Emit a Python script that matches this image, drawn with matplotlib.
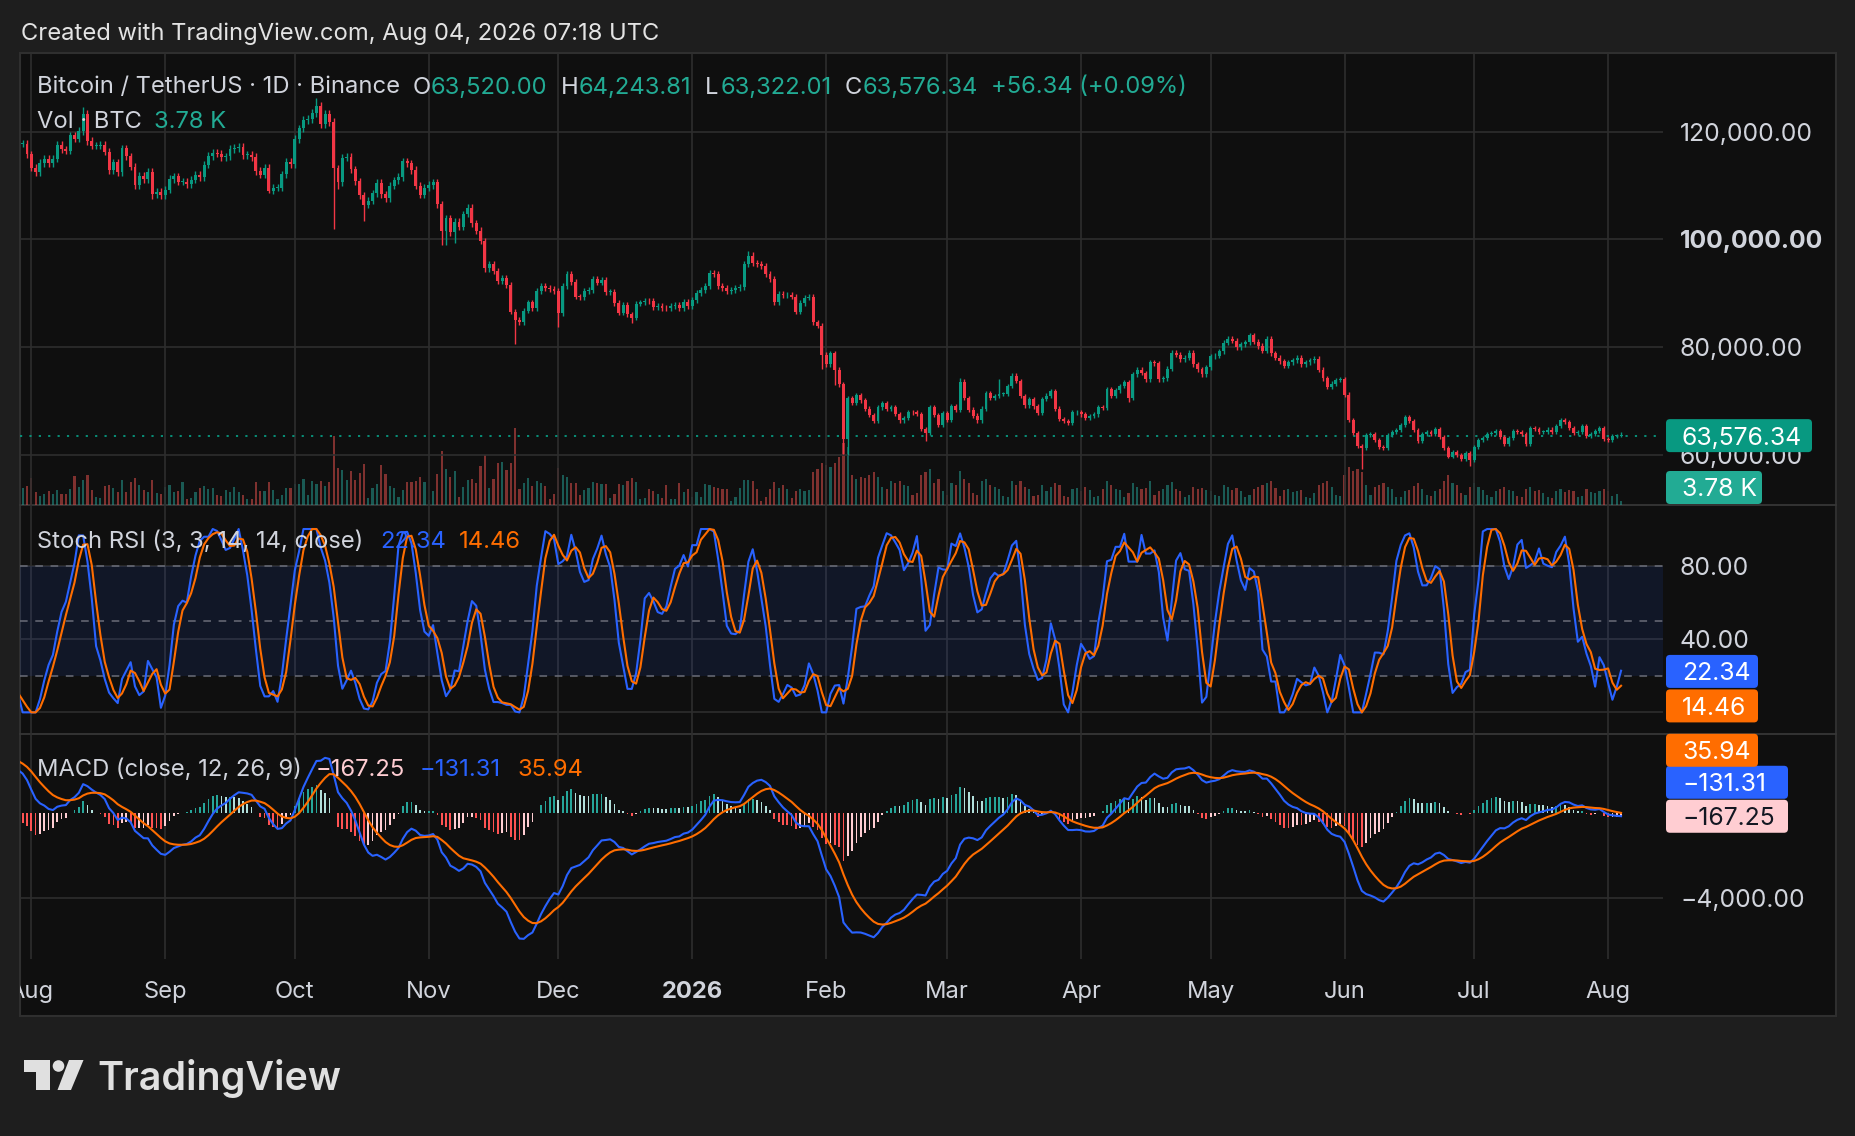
import numpy as np
import pandas as pd
import matplotlib
matplotlib.use("Agg")
import matplotlib.pyplot as plt
from matplotlib.patches import Rectangle, FancyBboxPatch, Circle, Polygon
from matplotlib.transforms import blended_transform_factory

plt.rcParams["font.family"] = ["Inter", "DejaVu Sans"]

# ---------------- data (closes in thousand USDT, volume in thousand BTC) ----------------
# Jun / Jul 2025 are only the look-back for the indicators (left of the visible range)
close_2025_06 = [105.6, 105.8, 105.4, 104.7, 101.5, 104.3, 105.6, 105.7, 110.3, 110.2,
                 108.7, 105.9, 106.1, 105.5, 105.6, 106.8, 104.6, 104.9, 104.6, 103.3,
                 102.1, 100.9, 105.4, 105.9, 107.3, 106.9, 107.1, 107.3, 108.4, 107.1]
close_2025_07 = [105.7, 108.8, 109.6, 108.0, 108.2, 109.2, 108.2, 108.9, 111.3, 115.9,
                 117.5, 117.4, 119.1, 119.8, 117.7, 118.6, 119.2, 117.9, 117.8, 117.3,
                 117.4, 119.9, 118.7, 118.3, 117.6, 117.9, 119.4, 118.0, 117.8, 117.8, 115.8]
close_2025_08 = [113.3, 112.5, 114.2, 115.0, 114.1, 115.0, 117.5, 116.7, 116.5, 119.3,
                 118.7, 120.1, 123.3, 118.3, 117.4, 117.4, 117.5, 116.3, 112.9, 114.3,
                 112.5, 116.9, 115.4, 113.5, 110.1, 111.8, 111.2, 112.6, 108.4, 108.8, 108.2]
close_2025_09 = [109.2, 111.2, 111.7, 110.7, 110.7, 110.2, 111.1, 112.0, 111.5, 113.9,
                 115.5, 116.1, 115.9, 115.3, 115.4, 116.8, 117.0, 117.2, 115.7, 115.7,
                 115.3, 112.7, 112.0, 113.3, 109.0, 109.6, 109.6, 112.1, 114.4, 114.0]
close_2025_10 = [118.6, 120.6, 122.2, 122.4, 123.5, 124.7, 121.4, 123.3, 121.7, 113.2,
                 110.6, 115.2, 115.3, 113.0, 110.8, 108.2, 106.4, 107.2, 108.6, 110.5,
                 108.4, 107.6, 110.0, 111.0, 111.6, 114.5, 114.1, 112.9, 110.0, 108.3, 109.6]
close_2025_11 = [110.1, 110.6, 106.5, 101.5, 103.9, 101.3, 103.3, 102.3, 104.7, 105.9,
                 103.0, 101.6, 99.7, 94.6, 95.5, 94.2, 92.2, 92.9, 91.5, 86.6,
                 85.1, 84.7, 86.8, 88.3, 87.3, 90.5, 91.3, 90.9, 90.8, 90.4]
close_2025_12 = [86.3, 91.3, 93.5, 92.1, 89.4, 89.3, 90.4, 90.6, 92.7, 92.0,
                 92.5, 90.3, 90.3, 88.2, 86.4, 87.8, 86.1, 85.5, 88.1, 88.3,
                 88.6, 88.5, 87.5, 87.6, 87.3, 87.2, 87.7, 87.9, 87.2, 88.4, 87.6]
close_2026_01 = [88.7, 90.0, 90.6, 91.4, 93.8, 93.6, 91.3, 90.9, 90.5, 90.6,
                 90.9, 91.2, 95.4, 97.0, 95.6, 95.5, 95.1, 93.6, 92.6, 88.4,
                 89.9, 89.6, 89.7, 89.4, 86.6, 88.2, 89.2, 89.4, 84.6, 84.0, 78.6]
close_2026_02 = [76.8, 78.9, 75.8, 73.1, 62.9, 70.6, 69.6, 71.1, 70.1, 68.6,
                 67.4, 66.3, 68.8, 69.6, 68.5, 68.8, 67.6, 66.4, 66.9, 68.0,
                 67.9, 67.6, 64.8, 64.0, 68.9, 67.4, 65.6, 67.8]
close_2026_03 = [66.5, 69.0, 68.4, 73.6, 70.6, 68.4, 67.3, 66.4, 68.6, 71.4,
                 70.6, 70.9, 71.3, 71.3, 72.8, 74.7, 73.7, 70.9, 69.2, 70.4,
                 69.0, 67.8, 70.4, 71.0, 71.8, 68.6, 66.6, 66.3, 66.0, 67.9, 68.0]
close_2026_04 = [67.5, 66.8, 67.2, 67.5, 68.9, 68.7, 72.2, 71.0, 72.0, 72.8,
                 73.5, 70.6, 75.0, 75.8, 75.2, 74.0, 77.2, 77.0, 74.0, 74.2,
                 76.0, 79.0, 78.6, 77.8, 78.0, 79.0, 76.8, 75.9, 75.0, 76.3]
close_2026_05 = [78.3, 78.4, 79.2, 80.8, 81.6, 81.2, 80.0, 80.5, 80.9, 82.2,
                 81.0, 80.2, 79.3, 81.5, 78.9, 78.0, 77.4, 76.5, 77.2, 77.6,
                 78.0, 76.8, 77.2, 77.6, 77.8, 75.8, 74.2, 72.6, 73.2, 73.9, 74.0]
close_2026_06 = [71.2, 66.5, 64.0, 61.6, 61.3, 63.7, 63.8, 62.8, 61.5, 61.3,
                 63.7, 64.3, 64.6, 65.6, 67.0, 66.3, 64.6, 62.5, 63.8, 64.2,
                 63.8, 64.8, 63.4, 61.2, 59.7, 60.6, 60.0, 59.3, 60.4, 59.1]
close_2026_07 = [61.5, 62.8, 63.2, 63.8, 64.0, 64.5, 63.3, 62.0, 63.2, 64.4,
                 64.2, 63.8, 62.0, 65.0, 64.8, 64.3, 64.3, 64.7, 64.3, 65.4,
                 66.5, 66.1, 65.0, 64.0, 64.2, 65.3, 63.5, 63.9, 64.4, 65.0, 63.0]
close_2026_08 = [62.8, 63.5, 63.52, 63.57634]

# long wicks that stand out in the picture: date -> (high, low), thousand USDT
wicks = {
    "2025-08-13": (124.5, None), "2025-08-14": (124.0, None), "2025-08-29": (None, 107.5),
    "2025-09-25": (None, 108.6), "2025-10-06": (126.2, None), "2025-10-10": (122.5, 102.0),
    "2025-10-11": (None, 109.4), "2025-10-17": (None, 103.5), "2025-11-04": (None, 98.9),
    "2025-11-05": (None, 98.9), "2025-11-07": (None, 99.3), "2025-11-21": (None, 80.6),
    "2025-12-01": (None, 83.8), "2025-12-18": (None, 84.5), "2026-01-14": (97.9, None),
    "2026-01-31": (None, 75.9), "2026-02-03": (None, 72.9), "2026-02-05": (None, 60.1),
    "2026-02-06": (None, 59.9), "2026-02-24": (None, 62.5), "2026-03-04": (74.3, None),
    "2026-03-13": (74.0, None), "2026-04-12": (None, 69.8), "2026-06-05": (None, 57.3),
    "2026-06-30": (None, 57.9), "2026-08-04": (64.24381, 63.32201),
}

vol_2025_07 = [12, 17, 19]  # Jul 29 - 31
vol_2025_08 = [27, 13, 9, 11, 14, 11, 15, 11, 11, 16, 29, 18, 25, 30, 15, 8, 7, 19, 20, 17,
               13, 25, 13, 23, 27, 20, 15, 13, 25, 12, 11]
vol_2025_09 = [18, 20, 13, 14, 23, 6, 7, 13, 17, 19, 16, 17, 10, 9, 15, 13, 18, 13, 10, 6,
               6, 23, 14, 14, 23, 15, 6, 10, 17, 17]
vol_2025_10 = [21, 21, 26, 10, 24, 21, 24, 19, 23, 69, 37, 35, 25, 34, 25, 32, 41, 7, 17, 21,
               40, 31, 19, 17, 8, 15, 23, 23, 24, 28, 23]
vol_2025_11 = [5, 14, 31, 54, 36, 28, 34, 8, 18, 25, 26, 22, 39, 50, 17, 26, 42, 43, 35, 42,
               77, 16, 22, 27, 19, 24, 22, 19, 6, 11]
vol_2025_12 = [37, 30, 28, 22, 22, 10, 15, 17, 23, 22, 21, 21, 7, 11, 21, 20, 24, 27, 23, 6,
               7, 16, 14, 11, 7, 20, 6, 6, 22, 13, 16]
vol_2026_01 = [8, 13, 8, 21, 20, 18, 17, 16, 16, 4, 8, 17, 25, 25, 24, 16, 4, 8, 16, 23,
               17, 20, 16, 7, 14, 16, 14, 15, 33, 36, 42]
vol_2026_02 = [40, 38, 42, 48, 62, 58, 30, 26, 28, 27, 30, 33, 28, 18, 16, 24, 22, 24, 20, 19,
               10, 12, 30, 33, 36, 22, 26, 14]
vol_2026_03 = [10, 22, 20, 34, 26, 22, 12, 10, 24, 26, 20, 18, 16, 9, 8, 24, 20, 24, 18, 16,
               9, 10, 20, 14, 18, 22, 20, 9, 8, 16, 17]
vol_2026_04 = [14, 18, 15, 8, 9, 16, 24, 20, 16, 15, 8, 12, 22, 18, 16, 17, 24, 10, 14, 16,
               20, 23, 16, 14, 8, 10, 18, 16, 17, 15]
vol_2026_05 = [14, 10, 9, 20, 18, 15, 17, 14, 8, 10, 16, 18, 20, 22, 24, 17, 9, 15, 16, 13,
               14, 15, 8, 7, 12, 20, 22, 24, 18, 10, 9]
vol_2026_06 = [30, 38, 34, 36, 33, 20, 10, 18, 20, 22, 18, 16, 8, 8, 14, 15, 19, 22, 16, 10,
               9, 14, 16, 24, 30, 22, 20, 12, 10, 18]
vol_2026_07 = [22, 18, 15, 10, 8, 14, 16, 18, 15, 14, 9, 8, 16, 18, 14, 15, 12, 8, 7, 14,
               16, 13, 15, 14, 8, 9, 16, 13, 12, 14, 16]
vol_2026_08 = [14, 9, 11, 3.78]

price_ticks = [60000, 80000, 100000, 120000]
stoch_ticks = [0, 40, 80]
macd_ticks = [-4000]
month_labels = ["Aug", "Sep", "Oct", "Nov", "Dec", "2026", "Feb", "Mar", "Apr",
                "May", "Jun", "Jul", "Aug"]
month_starts = pd.date_range("2025-08-01", "2026-08-01", freq="MS")

stoch_last = (22.34, 14.46)            # K, D
macd_last = (-167.25, -131.31, 35.94)  # histogram, MACD, signal

# ---------------- build series ----------------
close_parts = [("2025-06-01", close_2025_06), ("2025-07-01", close_2025_07),
               ("2025-08-01", close_2025_08), ("2025-09-01", close_2025_09),
               ("2025-10-01", close_2025_10), ("2025-11-01", close_2025_11),
               ("2025-12-01", close_2025_12), ("2026-01-01", close_2026_01),
               ("2026-02-01", close_2026_02), ("2026-03-01", close_2026_03),
               ("2026-04-01", close_2026_04), ("2026-05-01", close_2026_05),
               ("2026-06-01", close_2026_06), ("2026-07-01", close_2026_07),
               ("2026-08-01", close_2026_08)]
vol_parts = [("2025-07-29", vol_2025_07), ("2025-08-01", vol_2025_08),
             ("2025-09-01", vol_2025_09), ("2025-10-01", vol_2025_10),
             ("2025-11-01", vol_2025_11), ("2025-12-01", vol_2025_12),
             ("2026-01-01", vol_2026_01), ("2026-02-01", vol_2026_02),
             ("2026-03-01", vol_2026_03), ("2026-04-01", vol_2026_04),
             ("2026-05-01", vol_2026_05), ("2026-06-01", vol_2026_06),
             ("2026-07-01", vol_2026_07), ("2026-08-01", vol_2026_08)]

close = pd.concat([pd.Series(np.array(v) * 1000.0, index=pd.date_range(s, periods=len(v)))
                   for s, v in close_parts])
volume = pd.concat([pd.Series(np.array(v, dtype=float), index=pd.date_range(s, periods=len(v)))
                    for s, v in vol_parts])

opn = close.shift(1).bfill()
high = np.maximum(opn, close) * 1.006
low = np.minimum(opn, close) * 0.994
for day, (hh, ll) in wicks.items():
    if hh is not None:
        high[day] = hh * 1000
    if ll is not None:
        low[day] = ll * 1000

base = pd.Timestamp("2025-08-01")
xd = (close.index - base).days.values.astype(float)
xv = (volume.index - base).days.values.astype(float)

# indicators (as TradingView computes them)
delta = close.diff()
gain = delta.clip(lower=0).ewm(alpha=1 / 14, adjust=False).mean()
loss = (-delta.clip(upper=0)).ewm(alpha=1 / 14, adjust=False).mean()
rsi = 100 - 100 / (1 + gain / loss)
rlo, rhi = rsi.rolling(14).min(), rsi.rolling(14).max()
stoch = 100 * (rsi - rlo) / (rhi - rlo)
k_line = stoch.rolling(3).mean()
d_line = k_line.rolling(3).mean()

macd = close.ewm(span=12, adjust=False).mean() - close.ewm(span=26, adjust=False).mean()
signal = macd.ewm(span=9, adjust=False).mean()
hist = macd - signal

# ---------------- layout ----------------
W, H = 1856, 1136
BG_OUT, BG = "#1e1e1e", "#0f0f0f"
GRID = "#2e2e2e"
TXT = "#d1d4dc"
UP, DN = "#089981", "#f23645"
BLUE, ORANGE = "#2962ff", "#ff6d00"
FS = 17.1      # legends, header, time axis
FS_AX = 17.8   # price scale and tags
DY = 2.5       # text centre correction in pixels
L, R = 20, 1663
X0_PX, PX_DAY = 31.3, 4.32
XLIM = ((L - X0_PX) / PX_DAY, (R - X0_PX) / PX_DAY)

fig = plt.figure(figsize=(W / 100, H / 100), dpi=100, facecolor=BG_OUT)


def pane(top, bottom, z=2):
    a = fig.add_axes([L / W, 1 - bottom / H, (R - L) / W, (bottom - top) / H], zorder=z)
    a.set_facecolor("none")
    a.set_xlim(*XLIM)
    a.set_xticks([])
    a.set_yticks([])
    for s in a.spines.values():
        s.set_visible(False)
    return a


ov = fig.add_axes([0, 0, 1, 1], zorder=0)
ov.set_xlim(0, W)
ov.set_ylim(H, 0)
ov.axis("off")
ov.add_patch(Rectangle((20, 53), 1816, 963, fc=BG, ec="#2f2f2f", lw=1.5))
for yy in (505, 734):
    ov.plot([20, 1836], [yy, yy], color="#363636", lw=1.3)

top = fig.add_axes([0, 0, 1, 1], zorder=10)
top.set_xlim(0, W)
top.set_ylim(H, 0)
top.axis("off")


def label(x, y, s, color=TXT, size=FS, **kw):
    top.text(x, y + DY, s, color=color, fontsize=size, va="center", **kw)


ax = pane(53, 505, z=3)
axv = pane(53, 505, z=2)
ax_s = pane(505, 734)
ax_m = pane(734, 959)
ax_t = pane(959, 1015)

ax.set_ylim(50700, 134600)
axv.set_ylim(0, 452)
ax_s.set_ylim(-11.8, 113.1)
ax_m.set_ylim(-6861, 3691)
ax_t.set_ylim(0, 1)

md = (month_starts - base).days.values
for a in (ax, ax_s, ax_m):
    for d in md:
        a.axvline(d, color=GRID, lw=1.2, zorder=0)
for v in price_ticks:
    ax.axhline(v, color=GRID, lw=1.2, zorder=0)
for v in stoch_ticks:
    ax_s.axhline(v, color=GRID, lw=1.2, zorder=0)
for v in macd_ticks:
    ax_m.axhline(v, color=GRID, lw=1.2, zorder=0)

# candles
o, c, hi, lo = opn.values, close.values, high.values, low.values
col = np.where(c >= o, UP, DN)
ax.vlines(xd, lo, hi, colors=col, lw=1.0, zorder=3)
ax.bar(xd, np.maximum(np.abs(c - o), 150), bottom=np.minimum(o, c), width=0.68,
       color=col, linewidth=0, zorder=4)
ax.axhline(close.iloc[-1], color=UP, lw=1.3, ls=(0, (1.2, 4)), zorder=2)

# volume
vcol = np.where(close.reindex(volume.index).values >= opn.reindex(volume.index).values,
                "#26a69a", "#ef5350")
axv.bar(xv, volume.values, width=0.5, color=vcol, alpha=0.5, linewidth=0)

# stoch RSI
ax_s.axhspan(20, 80, color=BLUE, alpha=0.1, lw=0, zorder=0)
for lvl in (80, 50, 20):
    ax_s.axhline(lvl, color="#6a6d78", lw=1.1, ls=(0, (5, 5)), zorder=1)
ax_s.plot(xd, k_line.values, color=BLUE, lw=1.5, zorder=3)
ax_s.plot(xd, d_line.values, color=ORANGE, lw=1.5, zorder=4)

# MACD
hv = hist.values
hprev = np.r_[hv[0], hv[:-1]]
hcol = np.where(hv >= 0, np.where(hv > hprev, "#26a69a", "#b2dfdb"),
                np.where(hv < hprev, "#ff5252", "#ffcdd2"))
ax_m.bar(xd, hv, width=0.4, color=hcol, linewidth=0, zorder=2)
ax_m.plot(xd, macd.values, color=BLUE, lw=1.5, zorder=3)
ax_m.plot(xd, signal.values, color=ORANGE, lw=1.5, zorder=4)

# time axis labels
tr = blended_transform_factory(ax_t.transData, ax_t.transAxes)
for d, lab in zip(md, month_labels):
    ax_t.text(d, 0.41, lab, transform=tr, ha="center", va="center", color=TXT,
              fontsize=FS, fontweight="bold" if lab == "2026" else "normal", clip_on=True)


def ypx(a, v):
    return H - a.transData.transform((0, v))[1]


# price scale labels
for v in price_ticks:
    label(1680, ypx(ax, v), f"{v:,.2f}", size=FS_AX,
          fontweight="bold" if v == 100000 else "normal", zorder=1)
for v in (80, 40):
    label(1680, ypx(ax_s, v), f"{v:.2f}", size=FS_AX)
for v in macd_ticks:
    label(1680, ypx(ax_m, v), f"{v:,.2f}".replace("-", "\u2212"), size=FS_AX)


def tag(yc, text, fc, x1, tc="white", h=33):
    top.add_patch(FancyBboxPatch((1666, yc - h / 2), x1 - 1666, h,
                                 boxstyle="round,pad=0,rounding_size=4", fc=fc, ec="none",
                                 zorder=5))
    label(1682, yc, text, color=tc, size=FS_AX, ha="left", zorder=6)


last_c = close.iloc[-1]
tag(ypx(ax, last_c), f"{last_c:,.2f}", "#089981", 1812)
tag(487.5, f"{volume.iloc[-1]:.2f} K", "#22ab94", 1762)
yk = ypx(ax_s, stoch_last[0])
tag(yk, f"{stoch_last[0]:.2f}", BLUE, 1758)
tag(yk + 34.5, f"{stoch_last[1]:.2f}", ORANGE, 1758)
yh = ypx(ax_m, macd_last[0])
tag(yh, f"{macd_last[0]:.2f}".replace("-", "\u2212"), "#ffcdd2", 1788, tc="#131722")
tag(yh - 34, f"{macd_last[1]:.2f}".replace("-", "\u2212"), BLUE, 1788)
tag(yh - 66, f"{macd_last[2]:.2f}", ORANGE, 1758)

# header and legends
label(21, 31, "Created with TradingView.com, Aug 04, 2026 07:18 UTC", color="#e3e3e3")
last_o, last_h, last_l = opn.iloc[-1], high.iloc[-1], low.iloc[-1]
chg = last_c - close.iloc[-2]
VAL = "#22ab94"
legend1 = [(37, "Bitcoin / TetherUS \u00b7 1D \u00b7 Binance", TXT),
           (413, "O", TXT), (431, f"{last_o:,.2f}", VAL),
           (561, "H", TXT), (579, f"{last_h:,.2f}", VAL),
           (705, "L", TXT), (721, f"{last_l:,.2f}", VAL),
           (845, "C", TXT), (863, f"{last_c:,.2f}", VAL),
           (991, f"+{chg:.2f} (+{chg / close.iloc[-2] * 100:.2f}%)", VAL)]
for xx, s, cc in legend1:
    label(xx, 85, s, color=cc)
label(37, 120, "Vol \u00b7 BTC")
label(154, 120, f"{volume.iloc[-1]:.2f} K", color=VAL)

label(37, 539, "Stoch RSI (3, 3, 14, 14, close)")
label(380, 539, f"{stoch_last[0]:.2f}", color=BLUE)
label(459, 539, f"{stoch_last[1]:.2f}", color=ORANGE)

label(37, 767, "MACD (close, 12, 26, 9)")
label(316, 767, f"{macd_last[0]:.2f}".replace("-", "\u2212"), color="#ffcdd2")
label(420, 767, f"{macd_last[1]:.2f}".replace("-", "\u2212"), color=BLUE)
label(518, 767, f"{macd_last[2]:.2f}", color=ORANGE)

# TradingView logo
LOGO = "#e0e0e0"
top.add_patch(Polygon([(24, 1060), (50, 1060), (50, 1090), (36, 1090), (36, 1072), (24, 1072)],
                      closed=True, fc=LOGO, ec="none"))
top.add_patch(Circle((58.5, 1066), 5.8, fc=LOGO, ec="none"))
top.add_patch(Polygon([(69, 1060), (83.5, 1060), (71, 1090), (57.5, 1090)],
                      closed=True, fc=LOGO, ec="none"))
top.text(97, 1090, "TradingView", color=LOGO, fontsize=28.4, fontweight="semibold",
         va="baseline", ha="left")

fig.savefig("out.png", dpi=100, facecolor=BG_OUT)
